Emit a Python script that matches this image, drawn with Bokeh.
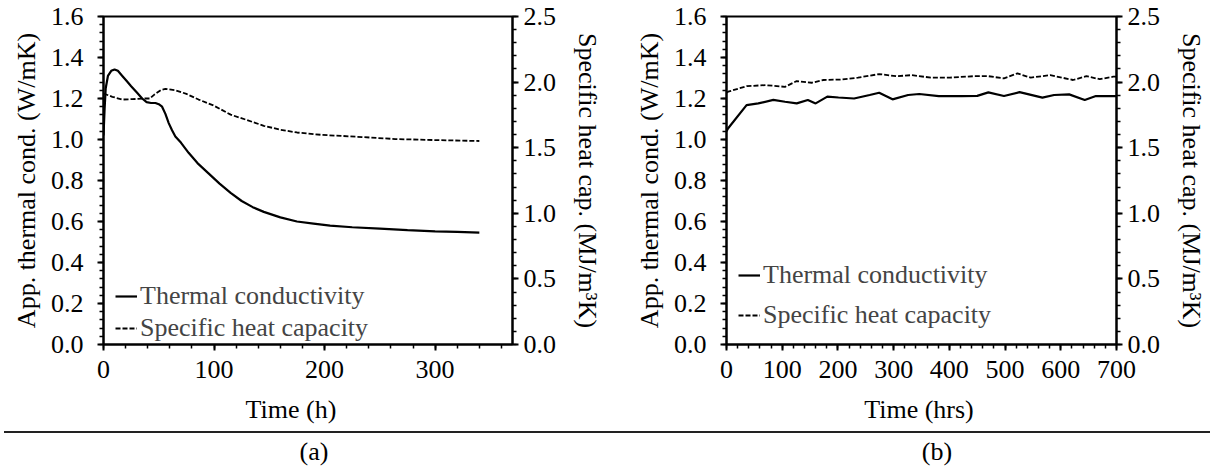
from bokeh.plotting import figure
from bokeh.models import (Range1d, LinearAxis, SingleIntervalTicker, NumeralTickFormatter,
                          Legend, LegendItem, Div)
from bokeh.layouts import column, row
from bokeh.embed import file_html
from bokeh.resources import INLINE

# ---------------- data: panel (a) ----------------
a_time_k = [0, 1, 2, 4, 7, 10, 13, 17, 21, 25, 30, 35, 39, 43, 47, 50, 53, 56, 59, 62, 65, 70,
            77, 85, 95, 105, 115, 125, 135, 145, 160, 175, 190, 205, 225, 250, 275, 300, 320, 340]
a_cond = [1.02, 1.15, 1.25, 1.31, 1.335, 1.342, 1.335, 1.31, 1.285, 1.26, 1.23, 1.20, 1.182,
          1.178, 1.178, 1.172, 1.16, 1.125, 1.08, 1.045, 1.015, 0.985, 0.935, 0.885, 0.835,
          0.785, 0.74, 0.70, 0.67, 0.647, 0.62, 0.60, 0.59, 0.58, 0.572, 0.565, 0.558, 0.552,
          0.549, 0.546]
a_time_c = [0, 8, 17, 26, 37, 42, 46, 52, 56, 65, 75, 86, 100, 115, 130, 145, 160, 175, 197,
            215, 234, 264, 300, 340]
a_cap = [1.913, 1.888, 1.867, 1.870, 1.875, 1.875, 1.905, 1.940, 1.948, 1.938, 1.910, 1.867,
         1.820, 1.752, 1.710, 1.667, 1.637, 1.616, 1.598, 1.590, 1.581, 1.566, 1.558, 1.551]

# ---------------- data: panel (b) ----------------
b_time_k = [0, 3, 36, 57, 84, 105, 126, 146, 160, 181, 201, 229, 257, 274, 298, 326, 346, 381,
            422, 450, 470, 498, 526, 567, 588, 615, 643, 663, 691, 700]
b_cond = [1.04, 1.055, 1.168, 1.176, 1.193, 1.184, 1.176, 1.193, 1.176, 1.209, 1.205, 1.20,
          1.217, 1.228, 1.196, 1.217, 1.222, 1.212, 1.212, 1.213, 1.23, 1.212, 1.231, 1.204,
          1.217, 1.22, 1.193, 1.212, 1.212, 1.212]
b_time_c = [0, 3, 36, 70, 105, 126, 153, 174, 208, 236, 274, 305, 332, 367, 401, 443, 470,
            498, 522, 546, 581, 622, 646, 670, 694, 700]
b_cap = [1.92, 1.927, 1.969, 1.977, 1.964, 2.008, 1.995, 2.016, 2.02, 2.034, 2.061, 2.045,
         2.053, 2.034, 2.034, 2.045, 2.045, 2.028, 2.066, 2.034, 2.053, 2.016, 2.045, 2.022,
         2.041, 2.041]

k_label = "App. thermal cond. (W/mK)"
c_label = "Specific heat cap. (MJ/m\u00b3K)"
legend_labels = ["Thermal conductivity", "Specific heat capacity"]
time_labels = ["Time (h)", "Time (hrs)"]
captions = ["(a)", "(b)"]

FONT = "'Liberation Serif', 'Times New Roman', serif"
FS = "26px"


def style_axis(ax, standoff, label_standoff=8):
    ax.axis_line_width = 2
    ax.major_tick_line_width = 2
    ax.minor_tick_line_width = 1.5
    ax.major_tick_in = 0
    ax.major_tick_out = 6
    ax.minor_tick_in = 0
    ax.minor_tick_out = 4
    ax.major_label_text_font = FONT
    ax.major_label_text_font_size = FS
    ax.major_label_text_color = "black"
    ax.axis_label_text_font = FONT
    ax.axis_label_text_font_size = FS
    ax.axis_label_text_font_style = "normal"
    ax.axis_label_text_color = "black"
    ax.major_label_standoff = standoff
    ax.axis_label_standoff = label_standoff


def panel(tk, k, tc, c, xmax, bl, br, leg_loc, leg_spacing):
    p = figure(width=605, height=394, x_range=Range1d(0, xmax), y_range=Range1d(0, 1.6),
               output_backend="svg", toolbar_location=None,
               min_border_left=bl, min_border_right=br, min_border_top=16, min_border_bottom=50)
    p.extra_y_ranges = {"cap": Range1d(0, 2.5)}
    p.grid.visible = False
    p.outline_line_color = "black"
    p.outline_line_width = 2
    p.background_fill_color = "white"
    p.border_fill_color = "white"

    p.xaxis.ticker = SingleIntervalTicker(interval=100, num_minor_ticks=5)
    p.yaxis.ticker = SingleIntervalTicker(interval=0.2, num_minor_ticks=5)
    p.yaxis.formatter = NumeralTickFormatter(format="0.0")
    p.yaxis.axis_label = k_label

    ra = LinearAxis(y_range_name="cap", axis_label=c_label,
                    ticker=SingleIntervalTicker(interval=0.5, num_minor_ticks=5),
                    formatter=NumeralTickFormatter(format="0.0"))
    p.add_layout(ra, "right")
    style_axis(p.xaxis[0], 10)
    style_axis(p.yaxis[0], 14, 7)
    style_axis(ra, 5, 14)

    r1 = p.line(tk, k, line_color="black", line_width=2.2)
    r2 = p.line(tc, c, line_color="black", line_width=1.8, line_dash="5 2", y_range_name="cap")

    leg = Legend(items=[LegendItem(label=legend_labels[0], renderers=[r1]),
                        LegendItem(label=legend_labels[1], renderers=[r2])],
                 location=leg_loc)
    leg.border_line_alpha = 0
    leg.background_fill_alpha = 0
    leg.label_text_font = FONT
    leg.label_text_font_size = FS
    leg.glyph_width = 22
    leg.glyph_height = 20
    leg.label_standoff = 3
    leg.padding = 0
    leg.margin = 0
    leg.spacing = leg_spacing
    p.add_layout(leg)
    return p


pa = panel(a_time_k, a_cond, a_time_c, a_cap, 370, 103, 87, (12, 1), 2)
pb = panel(b_time_k, b_cond, b_time_c, b_cap, 700, 121, 94, (12, 14), 10)

span = "<span style=\"position:absolute;left:{x}px;top:{y}px;transform:translateX(-50%);white-space:nowrap;\">{t}</span>"
cap = Div(text=(
    "<div style=\"position:relative;width:1210px;height:75px;"
    "font-family:'Liberation Serif','Times New Roman',serif;"
    "font-size:26px;line-height:30px;color:black;\">"
    + span.format(x=291, y=1, t=time_labels[0])
    + span.format(x=919, y=1, t=time_labels[1])
    + "<div style=\"position:absolute;left:4px;top:37px;width:1206px;height:0;"
      "border-top:2px solid #222;\"></div>"
    + span.format(x=314, y=43, t=captions[0])
    + span.format(x=937, y=43, t=captions[1])
    + "</div>"), width=1210, height=75, margin=(0, 0, 0, 0))

layout = column(row(pa, pb, spacing=0), cap, spacing=0)
open("out.html", "w").write(file_html(layout, INLINE))
